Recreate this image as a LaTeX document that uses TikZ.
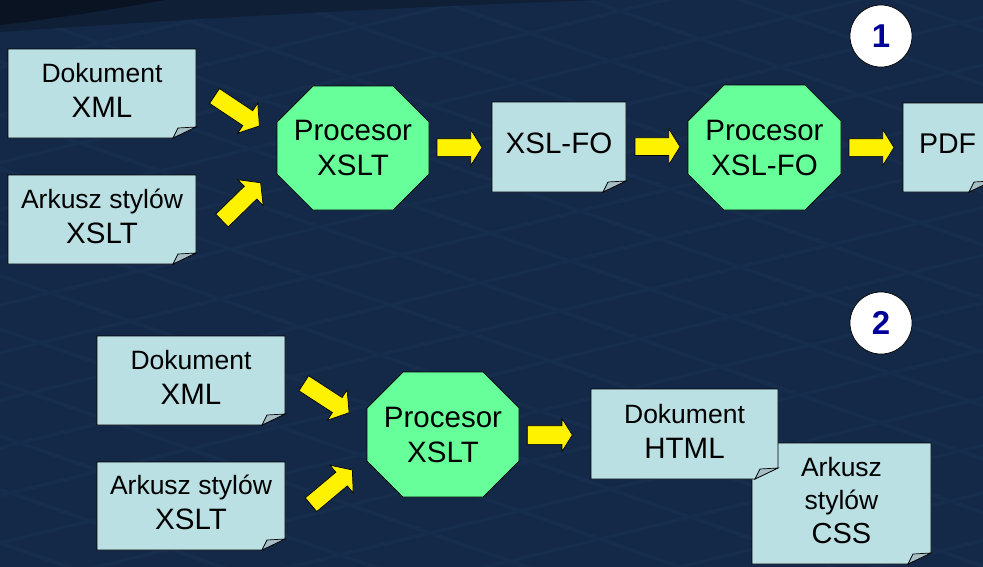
\documentclass[tikz,border=0pt]{standalone}
\usepackage{fontspec}
\setmainfont{Liberation Sans}
\usetikzlibrary{shapes.arrows}
\pgfdeclarelayer{bg}
\pgfdeclarelayer{shp}
\pgfsetlayers{bg,shp,main}
\definecolor{navy}{HTML}{162D4D}
\definecolor{navytile}{HTML}{0F213A}
\definecolor{navydark}{HTML}{0F1F36}
\definecolor{navyblack}{HTML}{0A1322}
\definecolor{docfill}{HTML}{BAE0E4}
\definecolor{foldfill}{HTML}{A6BEC6}
\definecolor{octfill}{HTML}{66FF99}
\definecolor{numblue}{HTML}{000099}
\tikzset{
  doc/.style={rectangle, inner sep=0pt, outer sep=0pt, align=center,
    font=\fontsize{26.5}{35}\selectfont, text depth=7pt},
  oct/.style={rectangle, inner sep=0pt, outer sep=0pt, align=center,
    font=\fontsize{29.5}{35}\selectfont},
  harrow/.style={single arrow, draw=black, fill=yellow, line width=0.7pt,
    inner xsep=0pt, inner ysep=8.5pt, outer sep=0pt, minimum height=45pt,
    minimum width=35pt, single arrow head extend=9pt, single arrow tip angle=116,
    anchor=tail},
  darrow/.style={harrow, minimum height=54pt, minimum width=36pt,
    single arrow tip angle=104},
  num/.style={circle, draw=black, fill=white, line width=0.7pt, minimum size=62pt,
    inner sep=0pt, text=numblue, font=\fontsize{33}{33}\selectfont\bfseries},
  shapeline/.style={draw=black, line width=0.7pt},
  tile/.style={fill=navytile, opacity=0.3}
}
\newcommand\bigline[1]{{\fontsize{29.5}{35}\selectfont #1}}
\newcommand\docshape[1]{%
  \path[shapeline, fill=docfill] (#1.north west) -- (#1.north east)
    -- ([yshift=11pt]#1.south east) -- ([xshift=-23pt]#1.south east)
    -- (#1.south west) -- cycle;
  \path[shapeline, fill=foldfill] ([xshift=-23pt]#1.south east)
    -- ([xshift=-18pt,yshift=10pt]#1.south east)
    -- ([yshift=11pt]#1.south east) -- cycle;}
\newcommand\octshape[1]{%
  \path[shapeline, fill=octfill] ([xshift=36pt]#1.north west)
    -- ([xshift=-36pt]#1.north east) -- ([yshift=-36pt]#1.north east)
    -- ([yshift=36pt]#1.south east) -- ([xshift=-36pt]#1.south east)
    -- ([xshift=36pt]#1.south west) -- ([yshift=36pt]#1.south west)
    -- ([yshift=-36pt]#1.north west) -- cycle;}
\begin{document}
\begin{tikzpicture}[x=1pt,y=-1pt]
\useasboundingbox (0,0) rectangle (983,566);
\clip (0,0) rectangle (983,566);
\begin{pgfonlayer}{bg}
  \fill[navy] (-5,-5) rectangle (990,575);
  % subtle tiled floor texture over the whole background
  \begin{scope}[shift={(20,15)}, x={(90pt,22pt)}, y={(80pt,-28pt)}]
    \foreach \i in {-17,...,11}{
      \foreach \j in {-5,...,24}{
        \fill[tile] (\i+0.04,\j+0.04) -- (\i+0.96,\j+0.04) -- (\i+0.96,\j+0.96)
          -- (\i+0.04,\j+0.96) -- cycle;
      }
    }
  \end{scope}
  \fill[navydark] (0,0) -- (600,0) .. controls (420,6) and (200,18) .. (0,32) -- cycle;
  \fill[navyblack] (0,0) -- (165,0) .. controls (110,10) and (50,19) .. (0,25) -- cycle;
\end{pgfonlayer}

% top row
\node[doc, minimum width=188pt, minimum height=89pt] (dx1) at (102,93.5) {Dokument\\\bigline{XML}};
\node[doc, minimum width=188pt, minimum height=89pt] (ax1) at (102,219.5) {Arkusz stylów\\\bigline{XSLT}};
\node[oct, minimum width=152pt, minimum height=124pt] (p1) at (353,148) {Procesor\\XSLT};
\node[doc, font=\fontsize{29.5}{35}\selectfont, minimum width=134pt, minimum height=90pt] (fo) at (559,147) {XSL-FO};
\node[oct, minimum width=153pt, minimum height=125pt] (p2) at (764.5,147.5) {Procesor\\XSL-FO};
\node[doc, font=\fontsize{28.5}{35}\selectfont, minimum width=89pt, minimum height=89pt] (pdf) at (947.5,147.5) {PDF};
\node[num] (n1) at (881,36) {1};

\node[darrow, rotate=-33.7] (a1) at (214.5,96) {};
\node[darrow, rotate=44.3] (a2) at (222,220.5) {};
\node[harrow] (a3) at (437,147.5) {};
\node[harrow] (a4) at (635,146.7) {};
\node[harrow] (a5) at (849,147.5) {};

% bottom row
\node[doc, minimum width=188pt, minimum height=89pt] (dx2) at (191,380.5) {Dokument\\\bigline{XML}};
\node[doc, minimum width=188pt, minimum height=88pt] (ax2) at (191,506) {Arkusz stylów\\\bigline{XSLT}};
\node[oct, minimum width=152pt, minimum height=125pt] (p3) at (443,434.5) {Procesor\\XSLT};
\node[doc, font=\fontsize{26.5}{33.5}\selectfont, minimum width=179pt, minimum height=121pt] (css) at (841.5,503.5) {Arkusz\\stylów\\{\fontsize{29}{33.5}\selectfont CSS}};
\node[doc, minimum width=187pt, minimum height=90pt, text depth=5pt] (html) at (684.5,434) {Dokument\\\bigline{HTML}};
\node[num] (n2) at (881,323) {2};

\node[darrow, rotate=-33] (b1) at (303.8,383.3) {};
\node[darrow, rotate=40] (b2) at (311,504.7) {};
\node[harrow, minimum width=31pt, single arrow head extend=7pt, inner ysep=9pt] (b3) at (527.3,435) {};

\begin{pgfonlayer}{shp}
  \docshape{dx1}
  \docshape{ax1}
  \octshape{p1}
  \docshape{fo}
  \octshape{p2}
  \docshape{pdf}
  \docshape{dx2}
  \docshape{ax2}
  \octshape{p3}
  \docshape{css}
  \docshape{html}
\end{pgfonlayer}
\end{tikzpicture}
\end{document}
